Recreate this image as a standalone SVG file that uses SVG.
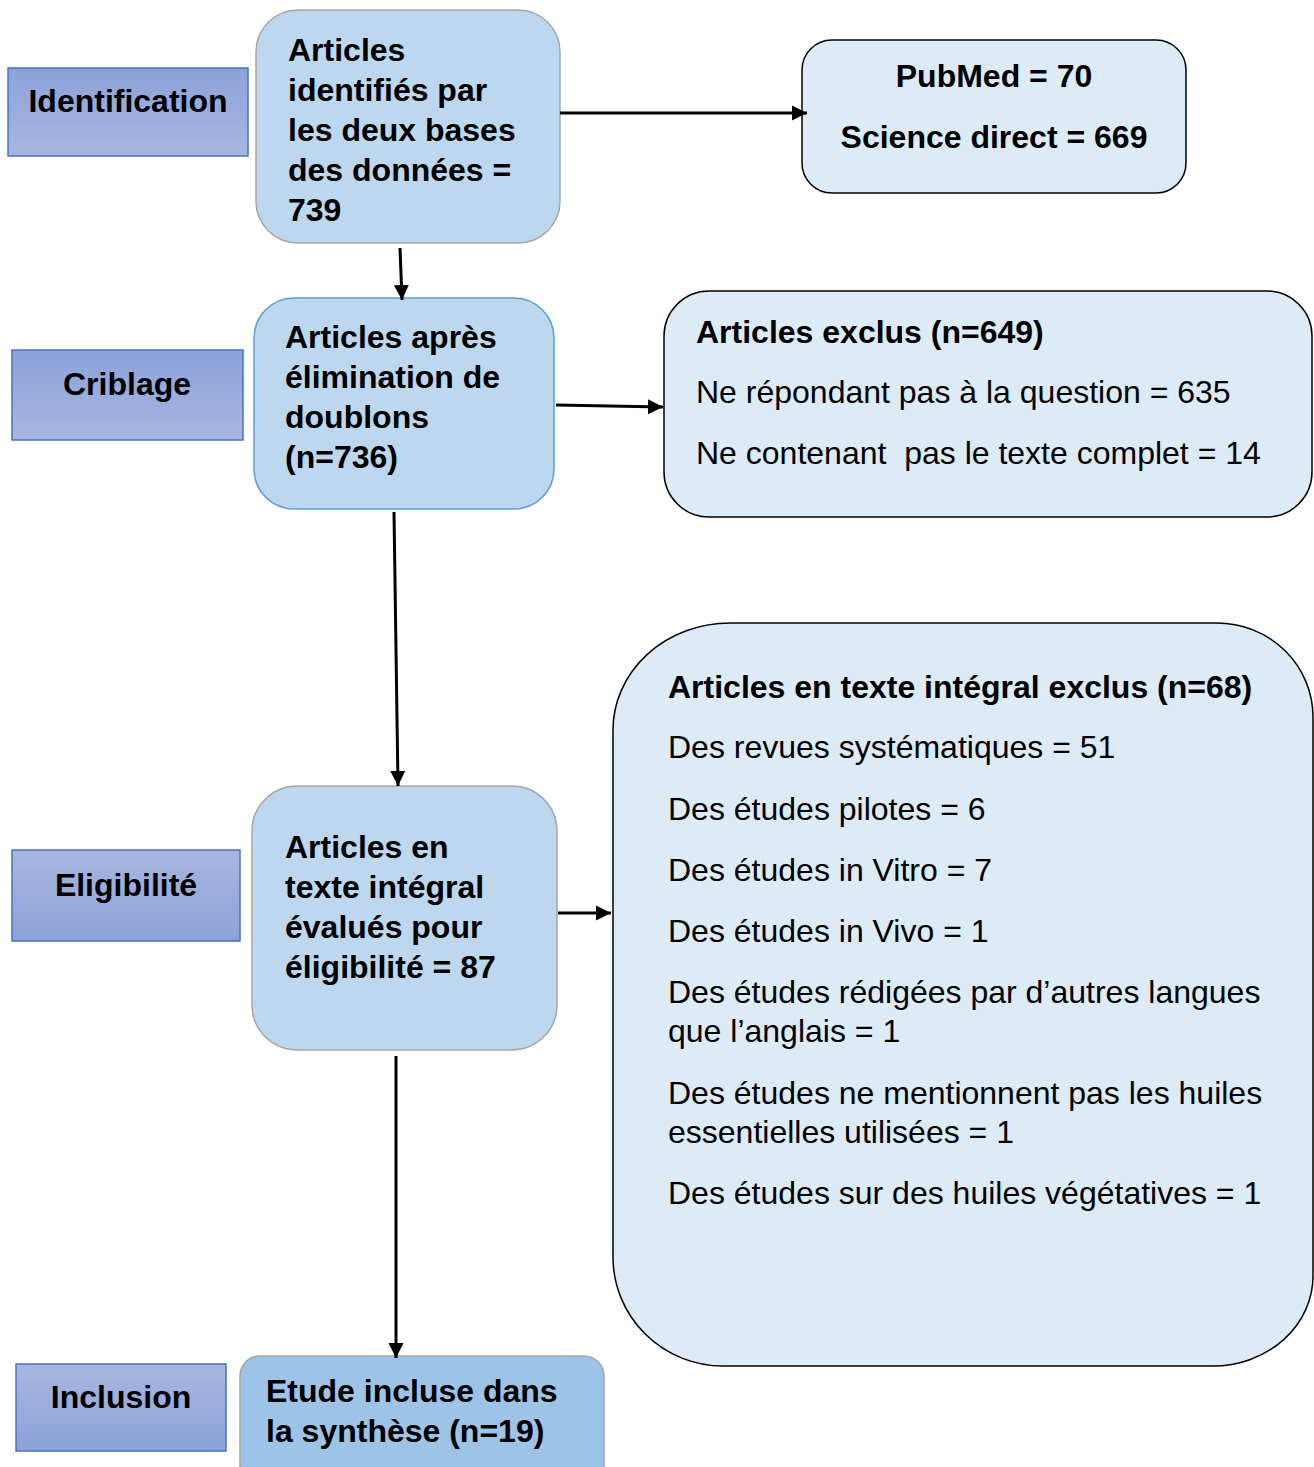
<svg xmlns="http://www.w3.org/2000/svg" width="1314" height="1467" viewBox="0 0 1314 1467">
<defs>
<linearGradient id="gDown" x1="0" y1="0" x2="0" y2="1"><stop offset="0" stop-color="#8CA2D9"/><stop offset="1" stop-color="#A8B6E0"/></linearGradient>
<linearGradient id="gUp" x1="0" y1="0" x2="0" y2="1"><stop offset="0" stop-color="#A8B6E0"/><stop offset="1" stop-color="#8CA2D9"/></linearGradient>
<marker id="arr" viewBox="0 0 10 10" refX="10" refY="5" markerWidth="5" markerHeight="5.5" orient="auto" markerUnits="strokeWidth"><path d="M0,0 L10,5 L0,10 Z" fill="#000"/></marker>
<style>
text{font-family:"Liberation Sans",Arial,sans-serif;font-size:32px;fill:#000}
.b{font-weight:bold}
.stage{stroke:#4472C4;stroke-width:1.5}
.mid{fill:#BDD7EE}
.light{fill:#DDEBF7;stroke:#000;stroke-width:1.5}
.conn line{stroke:#000;stroke-width:3;marker-end:url(#arr)}
</style>
</defs>
<rect width="1314" height="1467" fill="#fff"/>
<g id="stage-identification"><rect class="stage" x="8" y="68" width="240" height="88" fill="url(#gDown)"/><text class="b" x="128" y="112" text-anchor="middle">Identification</text></g>
<g id="stage-criblage"><rect class="stage" x="12" y="350" width="231" height="90" fill="url(#gDown)"/><text class="b" x="127" y="395" text-anchor="middle">Criblage</text></g>
<g id="stage-eligibilite"><rect class="stage" x="12" y="850" width="228" height="91" fill="url(#gUp)"/><text class="b" x="126" y="896" text-anchor="middle">Eligibilité</text></g>
<g id="stage-inclusion"><rect class="stage" x="16" y="1364" width="210" height="87" fill="url(#gUp)"/><text class="b" x="121" y="1408" text-anchor="middle">Inclusion</text></g>
<g id="n-identified"><rect class="mid" x="256" y="10" width="304" height="233" rx="42" stroke="#A6A6A6" stroke-width="1.5"/>
<text class="b" x="288" y="61">Articles</text><text class="b" x="288" y="101">identifiés par</text><text class="b" x="288" y="141">les deux bases</text><text class="b" x="288" y="181">des données =</text><text class="b" x="288" y="221">739</text></g>
<g id="n-sources"><rect class="light" x="802" y="40" width="384" height="153" rx="30"/>
<text class="b" x="994" y="87" text-anchor="middle">PubMed = 70</text><text class="b" x="994" y="148" text-anchor="middle">Science direct = 669</text></g>
<g id="n-dedup"><rect class="mid" x="254" y="298" width="300" height="211" rx="40" stroke="#5B9BD5" stroke-width="1.5"/>
<text class="b" x="285" y="348">Articles après</text><text class="b" x="285" y="388">élimination de</text><text class="b" x="285" y="428">doublons</text><text class="b" x="285" y="468">(n=736)</text></g>
<g id="n-excluded"><rect class="light" x="664" y="291" width="648" height="226" rx="45"/>
<text class="b" x="696" y="343">Articles exclus (n=649)</text><text x="696" y="403">Ne répondant pas à la question = 635</text><text x="696" y="464" xml:space="preserve">Ne contenant  pas le texte complet = 14</text></g>
<g id="n-fulltext"><rect class="mid" x="252" y="786" width="305" height="264" rx="45" stroke="#A6A6A6" stroke-width="1.5"/>
<text class="b" x="285" y="858">Articles en</text><text class="b" x="285" y="898">texte intégral</text><text class="b" x="285" y="938">évalués pour</text><text class="b" x="285" y="978">éligibilité = 87</text></g>
<g id="n-fulltext-excluded"><path class="light" d="M730 623 H1217 A96 94 0 0 1 1313 717 V1276 A100 90 0 0 1 1213 1366 H723 A110 109 0 0 1 613 1257 V730 A117 107 0 0 1 730 623 Z"/>
<text class="b" x="668" y="698">Articles en texte intégral exclus (n=68)</text>
<text x="668" y="758">Des revues systématiques = 51</text>
<text x="668" y="820">Des études pilotes = 6</text>
<text x="668" y="881">Des études in Vitro = 7</text>
<text x="668" y="942">Des études in Vivo = 1</text>
<text x="668" y="1003">Des études rédigées par d’autres langues</text>
<text x="668" y="1042">que l’anglais = 1</text>
<text x="668" y="1104">Des études ne mentionnent pas les huiles</text>
<text x="668" y="1143">essentielles utilisées = 1</text>
<text x="668" y="1204">Des études sur des huiles végétatives = 1</text></g>
<g id="n-included"><rect x="240" y="1356" width="364" height="130" rx="20" fill="#9DC3E6" stroke="#A6A6A6" stroke-width="1.5"/>
<text class="b" x="266" y="1402">Etude incluse dans</text><text class="b" x="266" y="1442">la synthèse (n=19)</text></g>
<g id="connectors" class="conn">
<line x1="560" y1="113" x2="807" y2="113"/>
<line x1="400" y1="248" x2="402" y2="300"/>
<line x1="556" y1="405" x2="663" y2="407"/>
<line x1="394" y1="512" x2="398" y2="786"/>
<line x1="558" y1="913" x2="611" y2="913"/>
<line x1="396" y1="1056" x2="396" y2="1358"/>
</g>
</svg>
